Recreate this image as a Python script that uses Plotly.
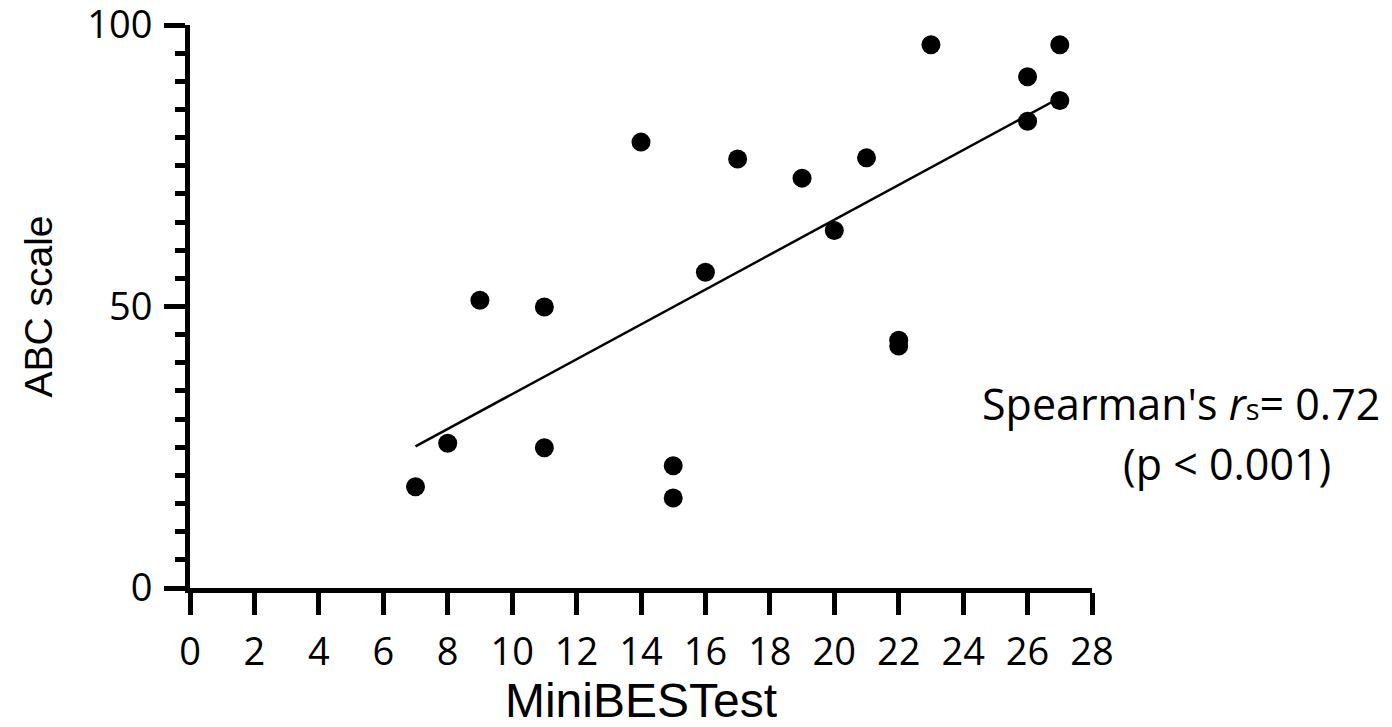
import numpy as np
import plotly.graph_objects as go

# MiniBESTest score vs ABC scale score per participant
mini_best = [7, 8, 9, 11, 11, 14, 15, 15, 16, 17, 19, 20, 21, 22, 22, 23, 26, 26, 27, 27]
abc_scale = [18.0, 25.7, 51.1, 49.9, 24.9, 79.2, 21.7, 16.0, 56.1, 76.2,
             72.8, 63.5, 76.4, 44.0, 43.0, 96.5, 90.8, 82.9, 96.5, 86.6]

x_ticks = list(range(0, 29, 2))
y_ticks = [0, 50, 100]

# least-squares line over the observed MiniBESTest range
slope, intercept = np.polyfit(mini_best, abc_scale, 1)
fit_x = np.array([min(mini_best), max(mini_best)])
fit_y = slope * fit_x + intercept

tick_font = dict(family="Open Sans, Noto Sans, sans-serif", size=38, color="black")

fig = go.Figure()
fig.add_trace(go.Scatter(
    x=fit_x, y=fit_y, mode="lines",
    line=dict(color="black", width=2.5), showlegend=False, hoverinfo="skip",
))
fig.add_trace(go.Scatter(
    x=mini_best, y=abc_scale, mode="markers",
    marker=dict(color="black", size=19, line=dict(width=0)), showlegend=False,
))

fig.update_xaxes(
    range=[0, 28], tickvals=x_ticks, ticktext=[str(v) for v in x_ticks],
    showline=True, linecolor="black", linewidth=5, mirror=False,
    ticks="outside", ticklen=22, tickwidth=5, tickcolor="black",
    tickfont=tick_font, ticklabelstandoff=4, ticklabeloverflow="allow",
    showgrid=False, zeroline=False, automargin=False,
    title=dict(text="MiniBESTest",
               font=dict(family="Liberation Sans, Arial, sans-serif", size=48, color="black"),
               standoff=16),
)
fig.update_yaxes(
    range=[0, 100], tickvals=y_ticks, ticktext=[str(v) for v in y_ticks],
    showline=True, linecolor="black", linewidth=5, mirror=False,
    ticks="outside", ticklen=21, tickwidth=5, tickcolor="black",
    tickfont=tick_font, ticklabelstandoff=4, ticklabeloverflow="allow",
    minor=dict(dtick=5, ticks="outside", ticklen=10, tickwidth=5, tickcolor="black", showgrid=False),
    showgrid=False, zeroline=False, automargin=False,
    title=dict(text="ABC scale",
               font=dict(family="Liberation Sans, Arial, sans-serif", size=39, color="black"),
               standoff=24),
)

ann_font = dict(family="Open Sans, Noto Sans, sans-serif", size=43, color="black")
fig.add_annotation(
    xref="paper", yref="paper", x=1.3215, y=0.328, xanchor="right", yanchor="middle",
    text="Spearman's <i>r</i><span style='font-size:29px'>s</span>= 0.72",
    showarrow=False, font=ann_font,
)
fig.add_annotation(
    xref="paper", yref="paper", x=1.267, y=0.222, xanchor="right", yanchor="middle",
    text="(p < 0.001)", showarrow=False, font=ann_font,
)

fig.update_layout(
    width=1392, height=727,
    margin=dict(l=190, r=300, t=25, b=139, pad=0),
    paper_bgcolor="white", plot_bgcolor="white",
)

fig.write_html("out.html")
